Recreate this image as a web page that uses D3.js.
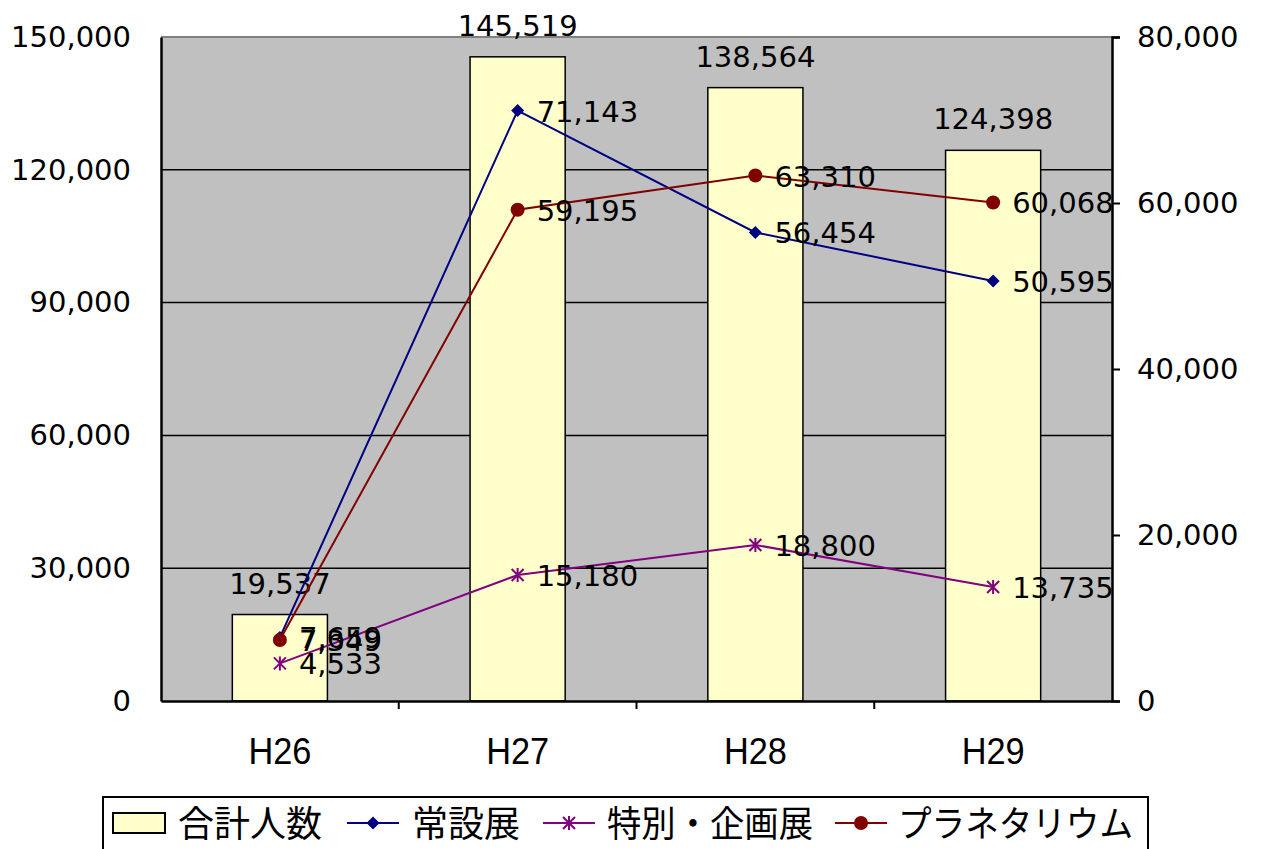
<!DOCTYPE html>
<html><head><meta charset="utf-8">
<script src="https://cdn.jsdelivr.net/npm/d3@7"></script>
<style>body{margin:0;background:#fff}svg{display:block}</style>
</head><body>
<script>
const categories = ["H26","H27","H28","H29"];
const totalVisitors = [19537,145519,138564,124398];
const permanentExhibit = [7659,71143,56454,50595];
const specialExhibit = [4533,15180,18800,13735];
const planetarium = [7349,59195,63310,60068];
const leftTicks = [0,30000,60000,90000,120000,150000];
const rightTicks = [0,20000,40000,60000,80000];

const W=1262,H=849;
const svg=d3.select("body").append("svg").attr("width",W).attr("height",H);
const L=161,R=1112,T=37,B=701;
const xc=d3.scaleBand().domain(categories).range([L,R]);
const yL=d3.scaleLinear().domain([0,150000]).range([B,T]);
const yR=d3.scaleLinear().domain([0,80000]).range([B,T]);
const fmt=d3.format(",");
const numFont="'DejaVu Sans', sans-serif";
const numSize=29;

svg.append("rect").attr("x",L).attr("y",T).attr("width",R-L).attr("height",B-T).attr("fill","#C0C0C0");
svg.append("g").selectAll("line").data(leftTicks.slice(1,-1)).join("line")
 .attr("x1",L).attr("x2",R).attr("y1",d=>yL(d)).attr("y2",d=>yL(d)).attr("stroke","#000").attr("stroke-width",1.5);
svg.append("line").attr("x1",L).attr("x2",R).attr("y1",T).attr("y2",T).attr("stroke","#808080").attr("stroke-width",2);

const bw=xc.bandwidth()*0.4;
const cx=d=>xc(d)+xc.bandwidth()/2;
svg.append("g").selectAll("rect").data(categories).join("rect")
 .attr("x",d=>cx(d)-bw/2).attr("width",bw)
 .attr("y",(d,i)=>yL(totalVisitors[i])).attr("height",(d,i)=>B-yL(totalVisitors[i]))
 .attr("fill","#FFFFCC").attr("stroke","#000").attr("stroke-width",1.5);

const gl=svg.append("g").attr("transform",`translate(${L},0)`).call(d3.axisLeft(yL).tickValues(leftTicks).tickFormat(fmt).tickSize(0).tickPadding(30));
gl.select(".domain").attr("stroke","#000").attr("stroke-width",2.5);
gl.selectAll("text").attr("font-family",numFont).attr("font-size",numSize).attr("fill","#000");
const gr=svg.append("g").attr("transform",`translate(${R},0)`).call(d3.axisRight(yR).tickValues(rightTicks).tickFormat(fmt).tickSize(8).tickPadding(17));
gr.select(".domain").attr("stroke","#000").attr("stroke-width",2.5);
gr.selectAll("line").attr("stroke","#000").attr("stroke-width",2);
gr.selectAll("text").attr("font-family",numFont).attr("font-size",numSize).attr("fill","#000");
const gb=svg.append("g").attr("transform",`translate(0,${B})`).call(d3.axisBottom(xc).tickSize(0).tickFormat(()=>""));
gb.select(".domain").attr("stroke","#000").attr("stroke-width",2.5);
svg.append("g").selectAll("text").data(categories).join("text")
 .attr("x",d=>cx(d)).attr("y",B+63).attr("text-anchor","middle")
 .attr("font-family","'Liberation Sans', Arial, sans-serif").attr("font-size",37)
 .attr("textLength",63).attr("lengthAdjust","spacingAndGlyphs").text(d=>d);
svg.append("g").selectAll("line").data(categories.slice(1)).join("line")
 .attr("x1",d=>xc(d)).attr("x2",d=>xc(d)).attr("y1",B).attr("y2",B+8).attr("stroke","#000").attr("stroke-width",2);

svg.append("g").selectAll("text").data(categories).join("text")
 .attr("x",d=>cx(d)).attr("y",(d,i)=>yL(totalVisitors[i])-21)
 .attr("text-anchor","middle").attr("font-family",numFont).attr("font-size",numSize).text((d,i)=>fmt(totalVisitors[i]));

const series=[
 {name:"常設展",vals:permanentExhibit,color:"#000080",marker:"diamond"},
 {name:"特別・企画展",vals:specialExhibit,color:"#800080",marker:"star"},
 {name:"プラネタリウム",vals:planetarium,color:"#800000",marker:"circle"}
];
const line=d3.line().x(d=>cx(d.c)).y(d=>yR(d.v));
function drawMarker(g,type,color){
 if(type==="diamond") g.append("path").attr("d","M0,-6.5L6.5,0L0,6.5L-6.5,0Z").attr("fill",color);
 else if(type==="circle") g.append("circle").attr("r",7).attr("fill",color);
 else g.append("path").attr("d","M-6,-6L6,6M6,-6L-6,6M0,-7L0,7").attr("stroke",color).attr("stroke-width",2).attr("fill","none");
}
series.forEach(s=>{
 const pts=categories.map((c,i)=>({c,v:s.vals[i]}));
 svg.append("path").datum(pts).attr("d",line).attr("fill","none").attr("stroke",s.color).attr("stroke-width",2);
 pts.forEach(p=>drawMarker(svg.append("g").attr("transform",`translate(${cx(p.c)},${yR(p.v)})`),s.marker,s.color));
});
series.forEach(s=>{
 svg.append("g").selectAll("text").data(categories).join("text")
  .attr("x",d=>cx(d)+19).attr("y",(d,i)=>yR(s.vals[i])+11)
  .attr("font-family",numFont).attr("font-size",numSize).attr("fill","#000").text((d,i)=>fmt(s.vals[i]));
});

// legend
const jp="'Noto Sans CJK JP', sans-serif";
const lg=svg.append("g");
lg.append("rect").attr("x",103).attr("y",797).attr("width",1045).attr("height",60).attr("fill","#fff").attr("stroke","#000").attr("stroke-width",2);
lg.append("rect").attr("x",113).attr("y",813).attr("width",52).attr("height",20).attr("fill","#FFFFCC").attr("stroke","#000").attr("stroke-width",2);
lg.append("text").attr("x",178).attr("y",837).attr("font-family",jp).attr("font-size",36).attr("textLength",144).attr("lengthAdjust","spacingAndGlyphs").text("合計人数");
const items=[{s:series[0],x:347,tx:412,tl:108},{s:series[1],x:543,tx:607,tl:206},{s:series[2],x:835,tx:898,tl:235}];
items.forEach(it=>{
 lg.append("line").attr("x1",it.x).attr("x2",it.x+52).attr("y1",823).attr("y2",823).attr("stroke",it.s.color).attr("stroke-width",2);
 drawMarker(lg.append("g").attr("transform",`translate(${it.x+26},823)`),it.s.marker,it.s.color);
 lg.append("text").attr("x",it.tx).attr("y",837).attr("font-family",jp).attr("font-size",36)
  .attr("textLength",it.tl).attr("lengthAdjust","spacingAndGlyphs").text(it.s.name);
});
</script>
</body></html>
